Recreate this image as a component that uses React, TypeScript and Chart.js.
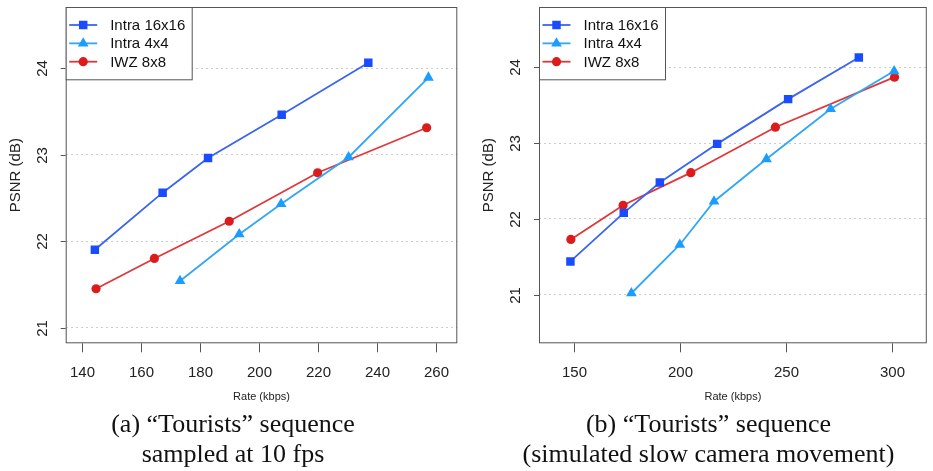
import React, { useEffect, useRef } from "react";
import { Chart, registerables } from "chart.js";
Chart.register(...registerables);

// ---- shared series info ----
const seriesNames = ["Intra 16x16", "Intra 4x4", "IWZ 8x8"];
const lineColors = ["#3a64f2", "#33a6f5", "#e0383a"];
const markerColors = ["#1a4cff", "#1a9dff", "#dc1c1c"];
const markerStyles = ["rect", "triangle", "circle"];
const markerRadii = [6, 6.2, 4.6];

// ---- panel (a): "Tourists" sampled at 10 fps ----
const aIntra16Rate = [144.3, 167.3, 182.7, 207.7, 237.1];
const aIntra16Psnr = [21.9, 22.56, 22.96, 23.46, 24.06];
const aIntra4Rate = [173.2, 193.3, 207.5, 230.4, 257.5];
const aIntra4Psnr = [21.54, 22.08, 22.43, 22.97, 23.89];
const aIwzRate = [144.7, 164.5, 189.9, 219.9, 256.9];
const aIwzPsnr = [21.45, 21.8, 22.23, 22.79, 23.31];
const aXTicks = [140, 160, 180, 200, 220, 240, 260];
const aYTicks = [21, 22, 23, 24];
const aCaption = ["(a) \u201cTourists\u201d sequence", "sampled at 10 fps"];

// ---- panel (b): simulated slow camera movement ----
const bIntra16Rate = [148.5, 173.6, 190.6, 217.6, 251.0, 284.3];
const bIntra16Psnr = [21.44, 22.08, 22.48, 22.99, 23.58, 24.13];
const bIntra4Rate = [177.2, 200.0, 216.1, 240.8, 271.0, 300.9];
const bIntra4Psnr = [21.02, 21.66, 22.23, 22.79, 23.45, 23.95];
const bIwzRate = [148.7, 173.3, 205.2, 245.0, 301.1];
const bIwzPsnr = [21.73, 22.18, 22.61, 23.21, 23.87];
const bXTicks = [150, 200, 250, 300];
const bYTicks = [21, 22, 23, 24];
const bCaption = ["(b) \u201cTourists\u201d sequence", "(simulated slow camera movement)"];

const xTitle = "Rate (kbps)";
const yTitle = "PSNR (dB)";

const SANS = '"Liberation Sans", Arial, Helvetica, sans-serif';

function drawMarker(ctx: CanvasRenderingContext2D, style: string, x: number, y: number, r: number) {
  ctx.beginPath();
  if (style === "rect") {
    const s = Math.SQRT1_2 * r;
    ctx.rect(x - s, y - s, 2 * s, 2 * s);
  } else if (style === "triangle") {
    for (let k = 0; k < 3; k++) {
      const a = (k * 2 * Math.PI) / 3;
      const px = x + Math.sin(a) * r;
      const py = y - Math.cos(a) * r;
      if (k === 0) ctx.moveTo(px, py);
      else ctx.lineTo(px, py);
    }
    ctx.closePath();
  } else {
    ctx.arc(x, y, r, 0, Math.PI * 2);
  }
  ctx.fill();
}

type PanelProps = {
  width: number;
  height: number;
  plotLeft: number;
  plotRight: number;
  plotTop: number;
  plotBottom: number;
  xMin: number;
  xMax: number;
  yMin: number;
  yMax: number;
  xTicks: number[];
  yTicks: number[];
  rates: number[][];
  psnrs: number[][];
};

function Panel(p: PanelProps) {
  const ref = useRef<HTMLCanvasElement | null>(null);
  useEffect(() => {
    if (!ref.current) return;
    const datasets = p.rates.map((rate, si) => ({
      label: seriesNames[si],
      data: rate.map((r, i) => ({ x: r, y: p.psnrs[si][i] })),
      showLine: true,
      borderColor: lineColors[si],
      borderWidth: 1.8,
      pointStyle: markerStyles[si],
      pointRadius: markerRadii[si],
      pointBackgroundColor: markerColors[si],
      pointBorderColor: markerColors[si],
      pointBorderWidth: 0,
      tension: 0,
    }));
    const rPlugin = {
      id: "rstyle",
      afterDraw(chart: any) {
        const { ctx, chartArea } = chart;
        const { left, right, top, bottom } = chartArea;
        const xs = chart.scales.x;
        const ys = chart.scales.y;
        ctx.save();
        // box
        ctx.strokeStyle = "#555";
        ctx.lineWidth = 1;
        ctx.strokeRect(left + 0.5, top + 0.5, right - left - 1, bottom - top - 1);
        // x ticks and labels
        ctx.fillStyle = "#222";
        ctx.font = `15px ${SANS}`;
        ctx.textAlign = "center";
        ctx.textBaseline = "middle";
        p.xTicks.forEach((v) => {
          const px = Math.round(xs.getPixelForValue(v)) + 0.5;
          ctx.beginPath();
          ctx.moveTo(px, bottom);
          ctx.lineTo(px, bottom + 9);
          ctx.stroke();
          ctx.fillText(String(v), px, bottom + 30);
        });
        // y ticks and rotated labels
        p.yTicks.forEach((v) => {
          const py = Math.round(ys.getPixelForValue(v)) + 0.5;
          ctx.beginPath();
          ctx.moveTo(left - 5, py);
          ctx.lineTo(left, py);
          ctx.stroke();
          ctx.save();
          ctx.translate(left - 23, py);
          ctx.rotate(-Math.PI / 2);
          ctx.fillText(String(v), 0, 0);
          ctx.restore();
        });
        // axis titles
        ctx.font = `11px ${SANS}`;
        ctx.fillText(xTitle, (left + right) / 2, bottom + 54);
        ctx.save();
        ctx.font = `15px ${SANS}`;
        ctx.translate(left - 50, (top + bottom) / 2);
        ctx.rotate(-Math.PI / 2);
        ctx.fillText(yTitle, 0, 0);
        ctx.restore();
        // legend
        const lw = 126;
        const lh = 72.3;
        ctx.fillStyle = "#fff";
        ctx.fillRect(left, top, lw, lh);
        ctx.strokeStyle = "#555";
        ctx.strokeRect(left + 0.5, top + 0.5, lw, lh);
        ctx.font = `15px ${SANS}`;
        ctx.textAlign = "left";
        seriesNames.forEach((name, si) => {
          const ry = top + 18 + si * 18.35;
          ctx.strokeStyle = lineColors[si];
          ctx.lineWidth = 1.8;
          ctx.beginPath();
          ctx.moveTo(left + 3.5, ry);
          ctx.lineTo(left + 31.5, ry);
          ctx.stroke();
          ctx.fillStyle = markerColors[si];
          drawMarker(ctx, markerStyles[si], left + 17.5, ry, markerRadii[si]);
          ctx.fillStyle = "#111";
          ctx.fillText(name, left + 44.5, ry + 1);
        });
        ctx.restore();
      },
    };
    const chart = new Chart(ref.current, {
      type: "scatter",
      data: { datasets: datasets as any },
      options: {
        animation: false,
        responsive: false,
        maintainAspectRatio: false,
        layout: {
          padding: { top: p.plotTop, left: 0, right: p.width - p.plotRight, bottom: 0 },
        },
        plugins: { legend: { display: false }, tooltip: { enabled: false } },
        scales: {
          x: {
            type: "linear",
            min: p.xMin,
            max: p.xMax,
            ticks: { display: false },
            grid: { display: false },
            border: { display: false },
            afterFit: (s: any) => {
              s.height = p.height - p.plotBottom;
            },
          },
          y: {
            type: "linear",
            min: p.yMin,
            max: p.yMax,
            ticks: { display: false },
            grid: { color: "#cccccc", lineWidth: 1, drawTicks: false },
            border: { display: false, dash: [2, 3] },
            afterBuildTicks: (s: any) => {
              s.ticks = p.yTicks.map((v) => ({ value: v }));
            },
            afterFit: (s: any) => {
              s.width = p.plotLeft;
            },
          },
        },
      } as any,
      plugins: [rPlugin],
    });
    return () => chart.destroy();
  }, []);
  return (
    <canvas
      ref={ref}
      width={p.width}
      height={p.height}
      style={{ width: p.width, height: p.height, display: "block" }}
    />
  );
}

const captionStyle: React.CSSProperties = {
  position: "absolute",
  top: 409,
  width: 500,
  textAlign: "center",
  fontFamily: '"Liberation Serif", "Times New Roman", serif',
  fontSize: 26,
  lineHeight: "30px",
  color: "#111",
  whiteSpace: "nowrap",
};

export default function App() {
  return (
    <div
      style={{
        position: "fixed",
        left: 0,
        top: 0,
        width: 933,
        height: 471,
        background: "#fff",
        overflow: "hidden",
      }}
    >
      <div style={{ position: "absolute", left: 0, top: 0 }}>
        <Panel
          width={466}
          height={410}
          plotLeft={65.7}
          plotRight={457.3}
          plotTop={7}
          plotBottom={343.3}
          xMin={134.4}
          xMax={267.3}
          yMin={20.82}
          yMax={24.705}
          xTicks={aXTicks}
          yTicks={aYTicks}
          rates={[aIntra16Rate, aIntra4Rate, aIwzRate]}
          psnrs={[aIntra16Psnr, aIntra4Psnr, aIwzPsnr]}
        />
      </div>
      <div style={{ position: "absolute", left: 466, top: 0 }}>
        <Panel
          width={467}
          height={410}
          plotLeft={73}
          plotRight={464.7}
          plotTop={7}
          plotBottom={343.3}
          xMin={133.7}
          xMax={316.3}
          yMin={20.36}
          yMax={24.795}
          xTicks={bXTicks}
          yTicks={bYTicks}
          rates={[bIntra16Rate, bIntra4Rate, bIwzRate]}
          psnrs={[bIntra16Psnr, bIntra4Psnr, bIwzPsnr]}
        />
      </div>
      <div style={{ ...captionStyle, left: 233 - 250 }}>
        {aCaption[0]}
        <br />
        {aCaption[1]}
      </div>
      <div style={{ ...captionStyle, left: 708.5 - 250 }}>
        {bCaption[0]}
        <br />
        {bCaption[1]}
      </div>
    </div>
  );
}
